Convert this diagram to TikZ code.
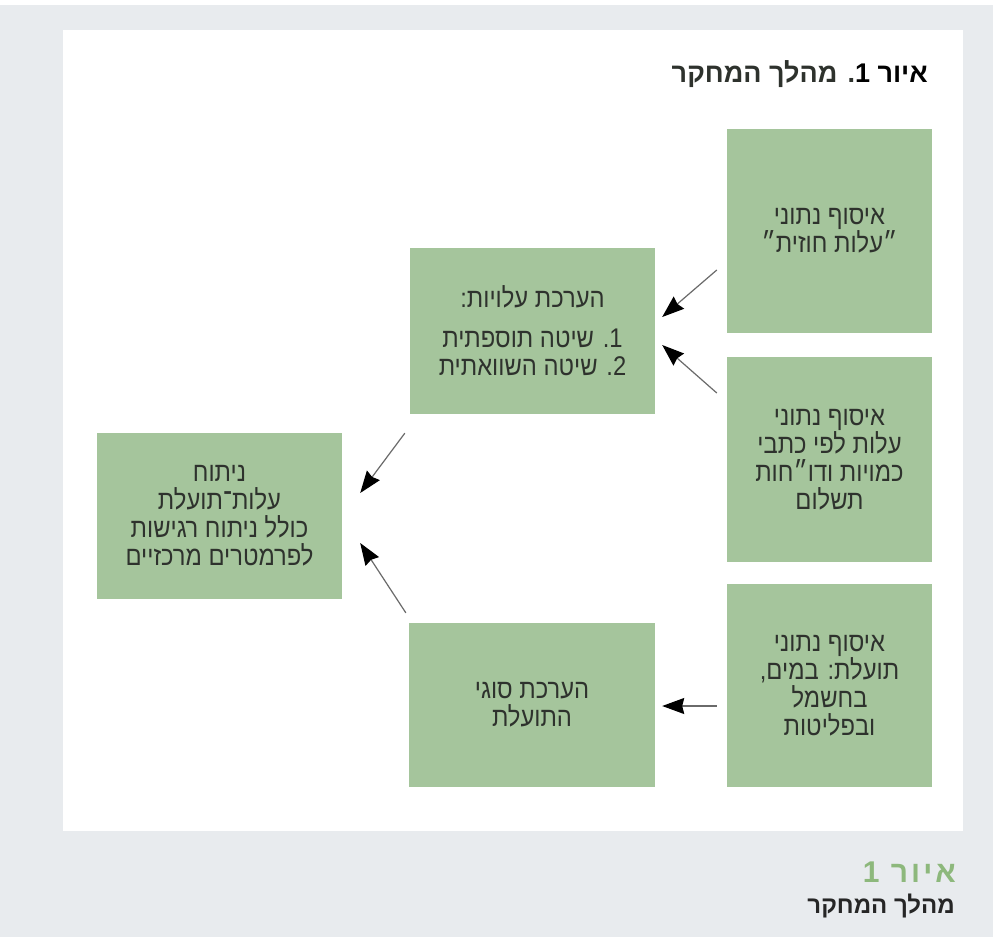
\documentclass[tikz,border=0pt]{standalone}
\usepackage{fontspec}
\usetikzlibrary{arrows.meta,calc}
\TeXXeTstate=1
\setmainfont{Liberation Sans}
\newfontfamily\heb[Script=Hebrew]{Liberation Sans}
\newfontfamily\hebbox[Script=Hebrew,FakeStretch=0.88]{Liberation Sans}
\newfontfamily\hebsp[Script=Hebrew,LetterSpace=10]{Liberation Sans}
\newcommand\rtl[1]{\beginR#1\endR}
\definecolor{bggray}{HTML}{E8EBEE}
\definecolor{boxgreen}{HTML}{A5C59C}
\definecolor{titlegreen}{HTML}{7FB571}
\definecolor{capgreen}{HTML}{8DB87C}
\definecolor{textgray}{HTML}{2E322D}
\definecolor{arrowgray}{HTML}{6A6A6A}
\tikzset{
  greenbox/.style={rectangle, fill=boxgreen, inner sep=0pt, align=center,
    text=textgray, font=\hebbox\fontsize{27}{28}\selectfont},
  flowarrow/.style={draw=arrowgray, line width=1.2pt,
    -{Stealth[length=22pt,width=16pt,inset=2pt,color=black]}}
}
\begin{document}
\begin{tikzpicture}[x=1pt,y=-1pt]
\useasboundingbox (0,0) rectangle (993,937);
\fill[white] (0,0) rectangle (993,937);
\fill[bggray] (0,5) rectangle (993,937);
\fill[white] (63,30) rectangle (963,831);

% title
\node[anchor=base east, inner sep=0pt, text=textgray,
  font=\heb\bfseries\fontsize{27}{30}\selectfont] (title) at (928,82)
  {\rtl{{\color{titlegreen}איור 1}. מהלך המחקר}};

% boxes
\node[greenbox, minimum width=205pt, minimum height=204pt] (A) at (829.5,231)
  {\rtl{איסוף נתוני}\\\rtl{״עלות חוזית״}};
\node[greenbox, minimum width=245pt, minimum height=166pt] (B) at (532.5,331)
  {\rtl{הערכת עלויות:}\\[12pt]
   \rtl{1\kern0pt. שיטה תוספתית}\\
   \rtl{2\kern0pt. שיטה השוואתית}};
\node[greenbox, minimum width=205pt, minimum height=205pt] (C) at (829.5,459.5)
  {\rtl{איסוף נתוני}\\\rtl{עלות לפי כתבי}\\\rtl{כמויות ודו״חות}\\\rtl{תשלום}};
\node[greenbox, minimum width=245pt, minimum height=166pt] (D) at (219.5,516)
  {\rtl{ניתוח}\\\rtl{עלות־תועלת}\\\rtl{כולל ניתוח רגישות}\\\rtl{לפרמטרים מרכזיים}};
\node[greenbox, minimum width=246pt, minimum height=164pt] (E) at (532,705)
  {\rtl{הערכת סוגי}\\\rtl{התועלת}};
\node[greenbox, minimum width=205pt, minimum height=203pt] (F) at (829.5,685.5)
  {\rtl{איסוף נתוני}\\\rtl{תועלת: במים,}\\\rtl{בחשמל}\\\rtl{ובפליטות}};

% arrow end points
\coordinate (a1) at ($(A.west)+(-10,39)$);
\coordinate (b1) at ($(B.east)+(7,-14)$);
\coordinate (c1) at ($(C.west)+(-10,-66.5)$);
\coordinate (b2) at ($(B.east)+(7,14)$);
\coordinate (b3) at ($(B.south west)+(-5,19)$);
\coordinate (d1) at ($(D.east)+(18,-23)$);
\coordinate (e1) at ($(E.north west)+(-3,-10)$);
\coordinate (d2) at ($(D.east)+(18,27)$);
\coordinate (f1) at ($(F.west)+(-10,20.5)$);
\coordinate (e2) at ($(E.east)+(7,1)$);

\draw[flowarrow] (a1) -- (b1);
\draw[flowarrow] (c1) -- (b2);
\draw[flowarrow] (b3) -- (d1);
\draw[flowarrow] (e1) -- (d2);
\draw[flowarrow] (f1) -- (e2);

% caption
\node[anchor=base east, inner sep=0pt, text=capgreen,
  font=\hebsp\bfseries\fontsize{30}{34}\selectfont] (cap1) at (956,882)
  {\rtl{איור 1}};
\node[anchor=base east, inner sep=0pt, text=black!85,
  font=\heb\bfseries\fontsize{24}{28}\selectfont] (cap2) at (955,913)
  {\rtl{מהלך המחקר}};
\end{tikzpicture}
\end{document}
